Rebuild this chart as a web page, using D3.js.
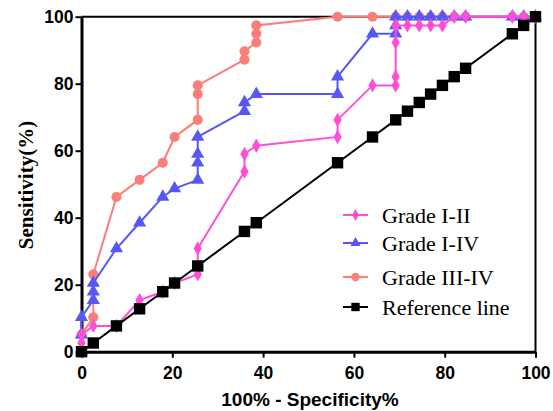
<!DOCTYPE html>
<html>
<head>
<meta charset="utf-8">
<script src="https://cdn.jsdelivr.net/npm/d3@7"></script>
<style>
  body { margin: 0; background: #fff; }
  svg { display: block; }
</style>
</head>
<body>
<div id="canvas"></div>
<script>
"use strict";

// ROC curves, values (x = 100% - specificity, y = sensitivity)
let seriesNames = ["Grade I-II", "Grade I-IV", "Grade III-IV", "Reference line"];
let seriesColors = ["#FF4FD8", "#5757F5", "#FA7F7A", "#000000"];
let seriesShapes = ["diamond", "triangle", "circle", "square"];

let gradeIIIx = [0, 0, 0, 2.6, 7.7, 12.8, 17.9, 20.5, 25.6, 25.6, 35.9, 35.9, 38.5, 56.4, 56.4, 64.1, 69.2, 69.2, 69.2, 69.2, 71.8, 74.4, 76.9, 79.5, 82.1, 84.6, 94.9, 97.4, 100];
let gradeIIIy = [0, 2.6, 5.1, 7.7, 7.7, 15.4, 17.9, 20.5, 23.1, 30.8, 53.8, 59.0, 61.5, 64.1, 69.2, 79.5, 79.5, 82.1, 92.3, 97.4, 97.4, 97.4, 97.4, 97.4, 100, 100, 100, 100, 100];

let gradeIIVx = [0, 0, 0, 2.6, 2.6, 2.6, 7.7, 12.8, 17.9, 20.5, 25.6, 25.6, 25.6, 25.6, 35.9, 35.9, 38.5, 56.4, 56.4, 64.1, 69.2, 69.2, 69.2, 71.8, 74.4, 76.9, 79.5, 82.1, 84.6, 94.9, 97.4, 100];
let gradeIIVy = [0, 5.1, 10.3, 15.4, 17.9, 20.5, 30.8, 38.5, 46.2, 48.7, 51.3, 56.4, 59.0, 64.1, 71.8, 74.4, 76.9, 76.9, 82.1, 94.9, 94.9, 97.4, 100, 100, 100, 100, 100, 100, 100, 100, 100, 100];

let gradeIIIIVx = [0, 0, 2.6, 2.6, 7.7, 12.8, 17.9, 20.5, 25.6, 25.6, 25.6, 35.9, 35.9, 38.5, 38.5, 38.5, 56.4, 64.1, 69.2, 71.8, 74.4, 76.9, 79.5, 82.1, 84.6, 94.9, 97.4, 100];
let gradeIIIIVy = [0, 5.1, 10.3, 23.1, 46.2, 51.3, 56.4, 64.1, 69.2, 76.9, 79.5, 87.2, 89.7, 92.3, 94.9, 97.4, 100, 100, 100, 100, 100, 100, 100, 100, 100, 100, 100, 100];

let referenceX = [0, 2.6, 7.7, 12.8, 17.9, 20.5, 25.6, 35.9, 38.5, 56.4, 64.1, 69.2, 71.8, 74.4, 76.9, 79.5, 82.1, 84.6, 94.9, 97.4, 100];
let referenceY = [0, 2.6, 7.7, 12.8, 17.9, 20.5, 25.6, 35.9, 38.5, 56.4, 64.1, 69.2, 71.8, 74.4, 76.9, 79.5, 82.1, 84.6, 94.9, 97.4, 100];

let tickValues = [0, 20, 40, 60, 80, 100];

let svgWidth = 553;
let svgHeight = 411;
let plot = { left: 81.5, right: 535.5, top: 16.7, bottom: 351.7 };

let svg = d3.select("#canvas").append("svg")
    .attr("width", svgWidth)
    .attr("height", svgHeight);

let xScale = d3.scaleLinear().domain([0, 100]).range([plot.left, plot.right]);
let yScale = d3.scaleLinear().domain([0, 100]).range([plot.bottom, plot.top]);

function zip(xs, ys) {
    let pts = [];
    for (let i = 0; i < xs.length; i++) pts.push({ x: xs[i], y: ys[i] });
    return pts;
}

let seriesData = [
    zip(gradeIIIx, gradeIIIy),
    zip(gradeIIVx, gradeIIVy),
    zip(gradeIIIIVx, gradeIIIIVy),
    zip(referenceX, referenceY)
];

// marker symbol per shape, sizes in px^2
function symbolFor(shape, big) {
    if (shape === "diamond") return d3.symbol().type(d3.symbolDiamond).size(big ? 60 : 40);
    if (shape === "triangle") return d3.symbol().type(d3.symbolTriangle).size(big ? 75 : 45);
    if (shape === "circle") return d3.symbol().type(d3.symbolCircle).size(big ? 80 : 55);
    return d3.symbol().type(d3.symbolSquare).size(big ? 130 : 70);
}

// frame lines (top and right)
svg.append("line")
    .attr("x1", plot.left).attr("x2", plot.right)
    .attr("y1", plot.top).attr("y2", plot.top)
    .attr("stroke", "black").attr("stroke-width", 2);
svg.append("line")
    .attr("x1", plot.right).attr("x2", plot.right)
    .attr("y1", plot.top).attr("y2", plot.bottom)
    .attr("stroke", "black").attr("stroke-width", 2);

// axes
let xAxis = svg.append("g")
    .attr("transform", "translate(0," + plot.bottom + ")")
    .call(d3.axisBottom(xScale).tickValues(tickValues).tickSize(6).tickPadding(9).tickSizeOuter(0));
let yAxis = svg.append("g")
    .attr("transform", "translate(" + plot.left + ",0)")
    .call(d3.axisLeft(yScale).tickValues(tickValues).tickSize(6).tickPadding(2).tickSizeOuter(0));

[xAxis, yAxis].forEach(function(ax) {
    ax.select(".domain").attr("stroke-width", 3);
    ax.selectAll(".tick line").attr("stroke-width", 2);
    ax.selectAll(".tick text")
        .style("font-family", "'Liberation Sans', Arial, sans-serif")
        .style("font-weight", "bold")
        .style("font-size", "17.5px")
        .attr("fill", "#000");
});

// draw order: III-IV, I-IV, I-II, reference
let drawOrder = [2, 1, 0, 3];
let line = d3.line().x(function(d) { return xScale(d.x); }).y(function(d) { return yScale(d.y); });

drawOrder.forEach(function(s) {
    let g = svg.append("g");
    g.append("path")
        .attr("d", line(seriesData[s]))
        .attr("fill", "none")
        .attr("stroke", seriesColors[s])
        .attr("stroke-width", 2);
    g.selectAll("path.pt")
        .data(seriesData[s])
        .join("path")
        .attr("class", "pt")
        .attr("d", symbolFor(seriesShapes[s], true))
        .attr("transform", function(d) { return "translate(" + xScale(d.x) + "," + yScale(d.y) + ")"; })
        .attr("fill", seriesColors[s]);
});

// axis titles
svg.append("text")
    .attr("x", 310)
    .attr("y", 406)
    .attr("text-anchor", "middle")
    .style("font-family", "'Liberation Sans', Arial, sans-serif")
    .style("font-weight", "bold")
    .style("font-size", "19px")
    .text("100% - Specificity%");

svg.append("text")
    .attr("transform", "translate(33,185) rotate(-90)")
    .attr("text-anchor", "middle")
    .style("font-family", "'Liberation Serif', 'Times New Roman', serif")
    .style("font-weight", "bold")
    .style("font-size", "21px")
    .text("Sensitivity(%)");

// legend
let legendRows = [215, 243, 277, 307];
for (let i = 0; i < seriesNames.length; i++) {
    let ly = legendRows[i];
    svg.append("line")
        .attr("x1", 343).attr("x2", 368)
        .attr("y1", ly).attr("y2", ly)
        .attr("stroke", seriesColors[i]).attr("stroke-width", 2);
    svg.append("path")
        .attr("d", symbolFor(seriesShapes[i], false))
        .attr("transform", "translate(355.5," + ly + ")")
        .attr("fill", seriesColors[i]);
    svg.append("text")
        .attr("x", 382)
        .attr("y", ly + 7.5)
        .style("font-family", "'Liberation Serif', 'Times New Roman', serif")
        .style("font-size", "22px")
        .text(seriesNames[i]);
}
</script>
</body>
</html>
